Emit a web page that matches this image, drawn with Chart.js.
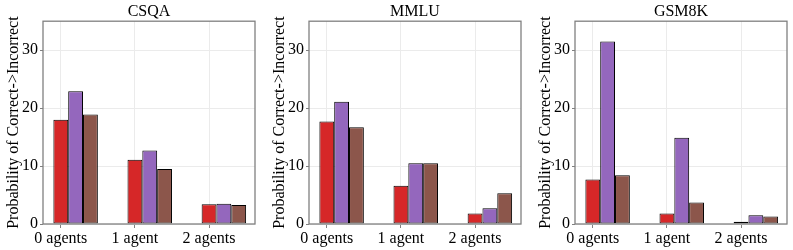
<!DOCTYPE html>
<html>
<head>
<meta charset="utf-8">
<script src="https://cdn.jsdelivr.net/npm/chart.js@4/dist/chart.umd.min.js"></script>
<style>
  body { margin: 0; background: #fff; width: 793px; height: 250px; overflow: hidden; }
  .panel { position: absolute; top: 0; }
</style>
</head>
<body>
<div class="panel" style="left:0px"><canvas id="c0" width="266" height="250"></canvas></div>
<div class="panel" style="left:266px"><canvas id="c1" width="266" height="250"></canvas></div>
<div class="panel" style="left:532px"><canvas id="c2" width="261" height="250"></canvas></div>
<script>
var categories = ['0 agents', '1 agent', '2 agents'];
var panelTitles = ['CSQA', 'MMLU', 'GSM8K'];
var yTicks = [0, 10, 20, 30];
var yTitle = 'Probability of Correct->Incorrect';

// three series per panel (red, purple, brown)
var csqaRed = [18.0, 11.1, 3.4];
var csqaPurple = [22.9, 12.7, 3.5];
var csqaBrown = [18.9, 9.5, 3.3];

var mmluRed = [17.7, 6.6, 1.8];
var mmluPurple = [21.1, 10.5, 2.7];
var mmluBrown = [16.7, 10.5, 5.3];

var gsmRed = [7.7, 1.8, 0.4];
var gsmPurple = [31.5, 14.9, 1.5];
var gsmBrown = [8.4, 3.7, 1.3];

var colors = ['#d62728', '#9467bd', '#8c564b'];
var font = "'Liberation Serif', 'DejaVu Serif', serif";

var frame = {
    id: 'frame',
    afterDatasetsDraw: function(chart) {
        var a = chart.chartArea, ctx = chart.ctx;
        ctx.save();
        ctx.strokeStyle = '#808080';
        ctx.lineWidth = 1.3;
        ctx.strokeRect(a.left, a.top, a.right - a.left, a.bottom - a.top);
        ctx.restore();
    }
};

function makePanel(id, title, series, padRight) {
    var datasets = series.map(function(vals, k) {
        return {
            data: vals.map(function(v, i) { return {x: i, y: v}; }),
            backgroundColor: colors[k],
            borderColor: '#000',
            borderWidth: 1,
            borderSkipped: false
        };
    });
    new Chart(document.getElementById(id), {
        type: 'bar',
        data: { datasets: datasets },
        plugins: [frame],
        options: {
            responsive: false,
            animation: false,
            layout: { padding: { left: 0, right: padRight, top: 0, bottom: 0 } },
            datasets: { bar: { categoryPercentage: 0.6, barPercentage: 1 } },
            plugins: {
                legend: { display: false },
                tooltip: { enabled: false },
                title: {
                    display: true, text: title, color: '#000', fullSize: false,
                    font: { family: font, size: 16, weight: 'normal' },
                    padding: { top: 2, bottom: 0 }
                }
            },
            scales: {
                x: {
                    type: 'linear', min: -0.44, max: 2.42, offset: false,
                    afterBuildTicks: function(s) {
                        s.ticks = categories.map(function(c, i) { return {value: i - 0.2}; });
                    },
                    afterFit: function(s) { s.height = 26; },
                    ticks: {
                        color: '#000', padding: 1, maxRotation: 0, autoSkip: false,
                        font: { family: font, size: 16 },
                        callback: function(v, i) { return categories[i]; }
                    },
                    grid: { color: '#ebebeb', tickColor: '#808080', tickLength: 4, offset: false },
                    border: { display: false }
                },
                y: {
                    min: 0, max: 35,
                    afterBuildTicks: function(s) {
                        s.ticks = yTicks.map(function(v) { return {value: v}; });
                    },
                    afterFit: function(s) { s.width = 43; },
                    ticks: {
                        color: '#000', padding: 2,
                        font: { family: font, size: 16 }
                    },
                    grid: { color: '#ebebeb', tickColor: '#808080', tickLength: 3 },
                    border: { display: false },
                    title: {
                        display: true, text: yTitle, color: '#000',
                        font: { family: font, size: 16 },
                        padding: { top: 4, bottom: 0 }
                    }
                }
            }
        }
    });
}

makePanel('c0', panelTitles[0], [csqaRed, csqaPurple, csqaBrown], 11);
makePanel('c1', panelTitles[1], [mmluRed, mmluPurple, mmluBrown], 11);
makePanel('c2', panelTitles[2], [gsmRed, gsmPurple, gsmBrown], 6);
</script>
</body>
</html>
